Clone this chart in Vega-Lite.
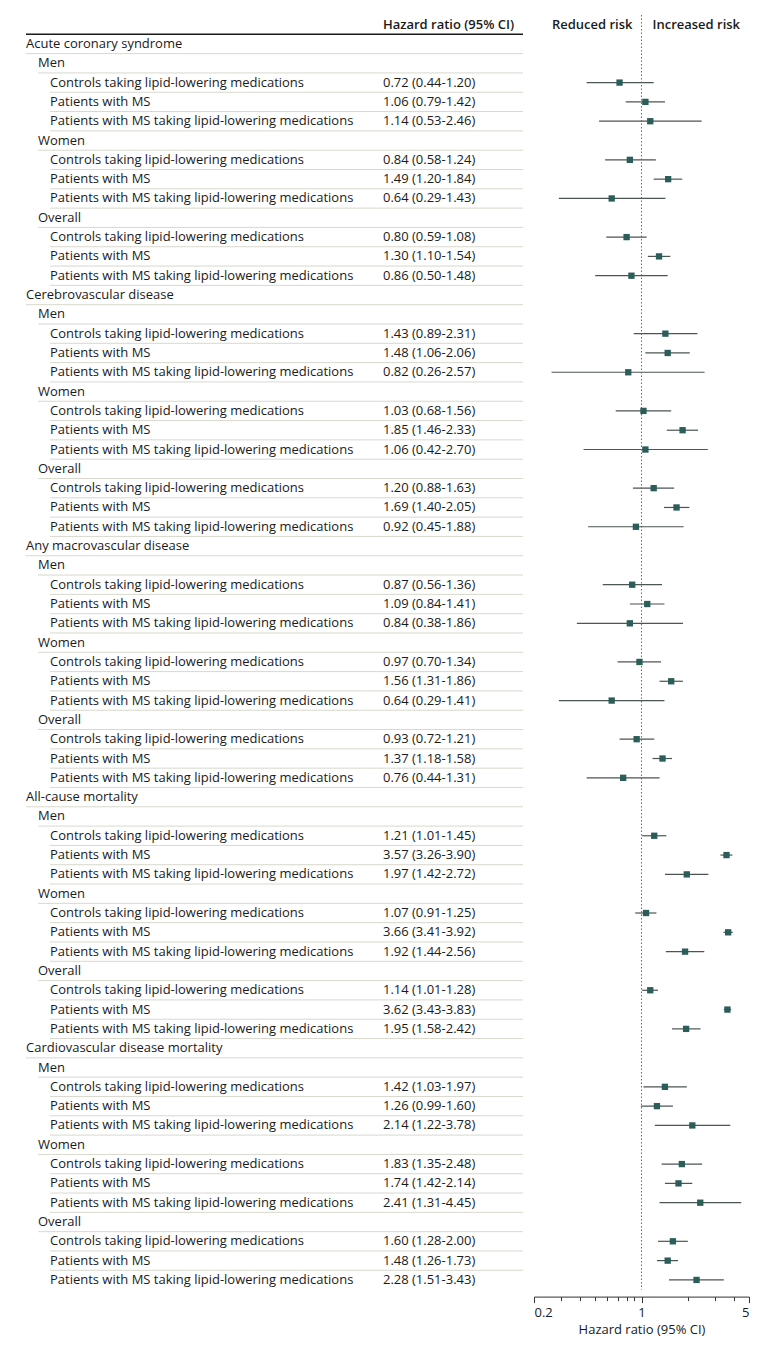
{
  "$schema": "https://vega.github.io/schema/vega-lite/v6.json",
  "padding": {"left": 25, "top": 14, "right": 5, "bottom": 5},
  "autosize": {"type": "pad"},
  "background": "white",
  "config": {"view": {"stroke": null}, "font": "Open Sans"},
  "spacing": 11,
  "bounds": "flush",
  "datasets": {
    "rows": [
      {"r": 1, "lvl": 0, "label": "Acute coronary syndrome"},
      {"r": 2, "lvl": 1, "label": "Men"},
      {"r": 3, "lvl": 2, "label": "Controls taking lipid-lowering medications", "hr": 0.72, "lo": 0.44, "hi": 1.20, "ci": "0.72 (0.44-1.20)"},
      {"r": 4, "lvl": 2, "label": "Patients with MS", "hr": 1.06, "lo": 0.79, "hi": 1.42, "ci": "1.06 (0.79-1.42)"},
      {"r": 5, "lvl": 2, "label": "Patients with MS taking lipid-lowering medications", "hr": 1.14, "lo": 0.53, "hi": 2.46, "ci": "1.14 (0.53-2.46)"},
      {"r": 6, "lvl": 1, "label": "Women"},
      {"r": 7, "lvl": 2, "label": "Controls taking lipid-lowering medications", "hr": 0.84, "lo": 0.58, "hi": 1.24, "ci": "0.84 (0.58-1.24)"},
      {"r": 8, "lvl": 2, "label": "Patients with MS", "hr": 1.49, "lo": 1.20, "hi": 1.84, "ci": "1.49 (1.20-1.84)"},
      {"r": 9, "lvl": 2, "label": "Patients with MS taking lipid-lowering medications", "hr": 0.64, "lo": 0.29, "hi": 1.43, "ci": "0.64 (0.29-1.43)"},
      {"r": 10, "lvl": 1, "label": "Overall"},
      {"r": 11, "lvl": 2, "label": "Controls taking lipid-lowering medications", "hr": 0.80, "lo": 0.59, "hi": 1.08, "ci": "0.80 (0.59-1.08)"},
      {"r": 12, "lvl": 2, "label": "Patients with MS", "hr": 1.30, "lo": 1.10, "hi": 1.54, "ci": "1.30 (1.10-1.54)"},
      {"r": 13, "lvl": 2, "label": "Patients with MS taking lipid-lowering medications", "hr": 0.86, "lo": 0.50, "hi": 1.48, "ci": "0.86 (0.50-1.48)"},
      {"r": 14, "lvl": 0, "label": "Cerebrovascular disease"},
      {"r": 15, "lvl": 1, "label": "Men"},
      {"r": 16, "lvl": 2, "label": "Controls taking lipid-lowering medications", "hr": 1.43, "lo": 0.89, "hi": 2.31, "ci": "1.43 (0.89-2.31)"},
      {"r": 17, "lvl": 2, "label": "Patients with MS", "hr": 1.48, "lo": 1.06, "hi": 2.06, "ci": "1.48 (1.06-2.06)"},
      {"r": 18, "lvl": 2, "label": "Patients with MS taking lipid-lowering medications", "hr": 0.82, "lo": 0.26, "hi": 2.57, "ci": "0.82 (0.26-2.57)"},
      {"r": 19, "lvl": 1, "label": "Women"},
      {"r": 20, "lvl": 2, "label": "Controls taking lipid-lowering medications", "hr": 1.03, "lo": 0.68, "hi": 1.56, "ci": "1.03 (0.68-1.56)"},
      {"r": 21, "lvl": 2, "label": "Patients with MS", "hr": 1.85, "lo": 1.46, "hi": 2.33, "ci": "1.85 (1.46-2.33)"},
      {"r": 22, "lvl": 2, "label": "Patients with MS taking lipid-lowering medications", "hr": 1.06, "lo": 0.42, "hi": 2.70, "ci": "1.06 (0.42-2.70)"},
      {"r": 23, "lvl": 1, "label": "Overall"},
      {"r": 24, "lvl": 2, "label": "Controls taking lipid-lowering medications", "hr": 1.20, "lo": 0.88, "hi": 1.63, "ci": "1.20 (0.88-1.63)"},
      {"r": 25, "lvl": 2, "label": "Patients with MS", "hr": 1.69, "lo": 1.40, "hi": 2.05, "ci": "1.69 (1.40-2.05)"},
      {"r": 26, "lvl": 2, "label": "Patients with MS taking lipid-lowering medications", "hr": 0.92, "lo": 0.45, "hi": 1.88, "ci": "0.92 (0.45-1.88)"},
      {"r": 27, "lvl": 0, "label": "Any macrovascular disease"},
      {"r": 28, "lvl": 1, "label": "Men"},
      {"r": 29, "lvl": 2, "label": "Controls taking lipid-lowering medications", "hr": 0.87, "lo": 0.56, "hi": 1.36, "ci": "0.87 (0.56-1.36)"},
      {"r": 30, "lvl": 2, "label": "Patients with MS", "hr": 1.09, "lo": 0.84, "hi": 1.41, "ci": "1.09 (0.84-1.41)"},
      {"r": 31, "lvl": 2, "label": "Patients with MS taking lipid-lowering medications", "hr": 0.84, "lo": 0.38, "hi": 1.86, "ci": "0.84 (0.38-1.86)"},
      {"r": 32, "lvl": 1, "label": "Women"},
      {"r": 33, "lvl": 2, "label": "Controls taking lipid-lowering medications", "hr": 0.97, "lo": 0.70, "hi": 1.34, "ci": "0.97 (0.70-1.34)"},
      {"r": 34, "lvl": 2, "label": "Patients with MS", "hr": 1.56, "lo": 1.31, "hi": 1.86, "ci": "1.56 (1.31-1.86)"},
      {"r": 35, "lvl": 2, "label": "Patients with MS taking lipid-lowering medications", "hr": 0.64, "lo": 0.29, "hi": 1.41, "ci": "0.64 (0.29-1.41)"},
      {"r": 36, "lvl": 1, "label": "Overall"},
      {"r": 37, "lvl": 2, "label": "Controls taking lipid-lowering medications", "hr": 0.93, "lo": 0.72, "hi": 1.21, "ci": "0.93 (0.72-1.21)"},
      {"r": 38, "lvl": 2, "label": "Patients with MS", "hr": 1.37, "lo": 1.18, "hi": 1.58, "ci": "1.37 (1.18-1.58)"},
      {"r": 39, "lvl": 2, "label": "Patients with MS taking lipid-lowering medications", "hr": 0.76, "lo": 0.44, "hi": 1.31, "ci": "0.76 (0.44-1.31)"},
      {"r": 40, "lvl": 0, "label": "All-cause mortality"},
      {"r": 41, "lvl": 1, "label": "Men"},
      {"r": 42, "lvl": 2, "label": "Controls taking lipid-lowering medications", "hr": 1.21, "lo": 1.01, "hi": 1.45, "ci": "1.21 (1.01-1.45)"},
      {"r": 43, "lvl": 2, "label": "Patients with MS", "hr": 3.57, "lo": 3.26, "hi": 3.90, "ci": "3.57 (3.26-3.90)"},
      {"r": 44, "lvl": 2, "label": "Patients with MS taking lipid-lowering medications", "hr": 1.97, "lo": 1.42, "hi": 2.72, "ci": "1.97 (1.42-2.72)"},
      {"r": 45, "lvl": 1, "label": "Women"},
      {"r": 46, "lvl": 2, "label": "Controls taking lipid-lowering medications", "hr": 1.07, "lo": 0.91, "hi": 1.25, "ci": "1.07 (0.91-1.25)"},
      {"r": 47, "lvl": 2, "label": "Patients with MS", "hr": 3.66, "lo": 3.41, "hi": 3.92, "ci": "3.66 (3.41-3.92)"},
      {"r": 48, "lvl": 2, "label": "Patients with MS taking lipid-lowering medications", "hr": 1.92, "lo": 1.44, "hi": 2.56, "ci": "1.92 (1.44-2.56)"},
      {"r": 49, "lvl": 1, "label": "Overall"},
      {"r": 50, "lvl": 2, "label": "Controls taking lipid-lowering medications", "hr": 1.14, "lo": 1.01, "hi": 1.28, "ci": "1.14 (1.01-1.28)"},
      {"r": 51, "lvl": 2, "label": "Patients with MS", "hr": 3.62, "lo": 3.43, "hi": 3.83, "ci": "3.62 (3.43-3.83)"},
      {"r": 52, "lvl": 2, "label": "Patients with MS taking lipid-lowering medications", "hr": 1.95, "lo": 1.58, "hi": 2.42, "ci": "1.95 (1.58-2.42)"},
      {"r": 53, "lvl": 0, "label": "Cardiovascular disease mortality"},
      {"r": 54, "lvl": 1, "label": "Men"},
      {"r": 55, "lvl": 2, "label": "Controls taking lipid-lowering medications", "hr": 1.42, "lo": 1.03, "hi": 1.97, "ci": "1.42 (1.03-1.97)"},
      {"r": 56, "lvl": 2, "label": "Patients with MS", "hr": 1.26, "lo": 0.99, "hi": 1.60, "ci": "1.26 (0.99-1.60)"},
      {"r": 57, "lvl": 2, "label": "Patients with MS taking lipid-lowering medications", "hr": 2.14, "lo": 1.22, "hi": 3.78, "ci": "2.14 (1.22-3.78)"},
      {"r": 58, "lvl": 1, "label": "Women"},
      {"r": 59, "lvl": 2, "label": "Controls taking lipid-lowering medications", "hr": 1.83, "lo": 1.35, "hi": 2.48, "ci": "1.83 (1.35-2.48)"},
      {"r": 60, "lvl": 2, "label": "Patients with MS", "hr": 1.74, "lo": 1.42, "hi": 2.14, "ci": "1.74 (1.42-2.14)"},
      {"r": 61, "lvl": 2, "label": "Patients with MS taking lipid-lowering medications", "hr": 2.41, "lo": 1.31, "hi": 4.45, "ci": "2.41 (1.31-4.45)"},
      {"r": 62, "lvl": 1, "label": "Overall"},
      {"r": 63, "lvl": 2, "label": "Controls taking lipid-lowering medications", "hr": 1.60, "lo": 1.28, "hi": 2.00, "ci": "1.60 (1.28-2.00)"},
      {"r": 64, "lvl": 2, "label": "Patients with MS", "hr": 1.48, "lo": 1.26, "hi": 1.73, "ci": "1.48 (1.26-1.73)"},
      {"r": 65, "lvl": 2, "label": "Patients with MS taking lipid-lowering medications", "hr": 2.28, "lo": 1.51, "hi": 3.43, "ci": "2.28 (1.51-3.43)"}
    ],
    "header": [
      {"r": 0, "col": "Hazard ratio (95% CI)", "left": "Reduced risk", "right": "Increased risk"}
    ]
  },
  "hconcat": [
    {
      "width": 497,
      "height": 1274.6,
      "layer": [
        {
          "data": {"name": "rows"},
          "transform": [{"filter": "datum.r < 65"}],
          "mark": {"type": "rule", "color": "#d8d8ce", "strokeWidth": 1},
          "encoding": {
            "x": {"field": "lvl", "type": "quantitative", "scale": {"domain": [0, 41.42], "nice": false, "zero": false}, "axis": null},
            "x2": {"datum": 41.42},
            "y": {"field": "r", "type": "ordinal", "bandPosition": 1,
                  "scale": {"domain": [0,1,2,3,4,5,6,7,8,9,10,11,12,13,14,15,16,17,18,19,20,21,22,23,24,25,26,27,28,29,30,31,32,33,34,35,36,37,38,39,40,41,42,43,44,45,46,47,48,49,50,51,52,53,54,55,56,57,58,59,60,61,62,63,64,65], "paddingInner": 0, "paddingOuter": 0},
                  "axis": null}
          }
        },
        {
          "data": {"name": "header"},
          "mark": {"type": "rule", "color": "#1a1a1a", "strokeWidth": 1.5},
          "encoding": {
            "x": {"datum": 0},
            "x2": {"datum": 41.42},
            "y": {"field": "r", "type": "ordinal", "bandPosition": 1}
          }
        },
        {
          "data": {"name": "rows"},
          "mark": {"type": "text", "align": "left", "baseline": "middle", "fontSize": 13, "font": "Open Sans", "color": "#1a1a1a"},
          "encoding": {
            "x": {"field": "lvl", "type": "quantitative"},
            "y": {"field": "r", "type": "ordinal"},
            "text": {"field": "label"}
          }
        },
        {
          "data": {"name": "rows"},
          "transform": [{"filter": "isValid(datum.ci)"}],
          "mark": {"type": "text", "align": "left", "baseline": "middle", "fontSize": 13, "font": "Open Sans", "color": "#1a1a1a"},
          "encoding": {
            "x": {"datum": 29.75},
            "y": {"field": "r", "type": "ordinal"},
            "text": {"field": "ci"}
          }
        },
        {
          "data": {"name": "header"},
          "mark": {"type": "text", "align": "left", "baseline": "middle", "fontSize": 13, "font": "Open Sans", "fontWeight": 600, "color": "#1a1a1a"},
          "encoding": {
            "x": {"datum": 29.75},
            "y": {"field": "r", "type": "ordinal"},
            "text": {"field": "col"}
          }
        }
      ]
    },
    {
      "width": 215,
      "height": 1274.6,
      "layer": [
        {
          "data": {"name": "rows"},
          "transform": [{"filter": "isValid(datum.hr)"}],
          "mark": {"type": "rule", "color": "#4b5553", "strokeWidth": 1.2},
          "encoding": {
            "x": {"field": "lo", "type": "quantitative",
                  "scale": {"type": "log", "domain": [0.2, 5], "nice": false},
                  "axis": {
                    "values": [0.2, 0.3, 0.4, 0.5, 0.6, 0.7, 0.8, 0.9, 1, 2, 3, 4, 5],
                    "labelExpr": "datum.value == 0.2 || datum.value == 1 || datum.value == 5 ? datum.label : ''",
                    "tickSize": {"condition": {"test": "datum.value == 0.2 || datum.value == 1 || datum.value == 5", "value": 6}, "value": 4},
                    "offset": 7,
                    "grid": false,
                    "title": "Hazard ratio (95% CI)",
                    "domainColor": "#333333",
                    "tickColor": "#333333",
                    "labelFont": "Open Sans",
                    "titleFont": "Open Sans",
                    "labelFontSize": 13,
                    "titleFontSize": 13,
                    "titleFontWeight": "normal",
                    "labelColor": "#1a1a1a",
                    "titleColor": "#1a1a1a",
                    "labelPadding": 4,
                    "titlePadding": 4
                  }},
            "x2": {"field": "hi"},
            "y": {"field": "r", "type": "ordinal",
                  "scale": {"domain": [0,1,2,3,4,5,6,7,8,9,10,11,12,13,14,15,16,17,18,19,20,21,22,23,24,25,26,27,28,29,30,31,32,33,34,35,36,37,38,39,40,41,42,43,44,45,46,47,48,49,50,51,52,53,54,55,56,57,58,59,60,61,62,63,64,65], "paddingInner": 0, "paddingOuter": 0},
                  "axis": null}
          }
        },
        {
          "data": {"name": "header"},
          "mark": {"type": "rule", "color": "#666666", "strokeWidth": 1, "strokeDash": [1.5, 2]},
          "encoding": {"x": {"datum": 1}}
        },
        {
          "data": {"name": "rows"},
          "transform": [{"filter": "isValid(datum.hr)"}],
          "mark": {"type": "square", "color": "#2b5d59", "opacity": 1, "size": 40},
          "encoding": {
            "x": {"field": "hr", "type": "quantitative"},
            "y": {"field": "r", "type": "ordinal"}
          }
        },
        {
          "data": {"name": "header"},
          "mark": {"type": "text", "align": "right", "baseline": "middle", "dx": -9, "fontSize": 13, "font": "Open Sans", "fontWeight": 600, "color": "#1a1a1a"},
          "encoding": {
            "x": {"datum": 1},
            "y": {"field": "r", "type": "ordinal"},
            "text": {"field": "left"}
          }
        },
        {
          "data": {"name": "header"},
          "mark": {"type": "text", "align": "left", "baseline": "middle", "dx": 11, "fontSize": 13, "font": "Open Sans", "fontWeight": 600, "color": "#1a1a1a"},
          "encoding": {
            "x": {"datum": 1},
            "y": {"field": "r", "type": "ordinal"},
            "text": {"field": "right"}
          }
        }
      ]
    }
  ]
}
